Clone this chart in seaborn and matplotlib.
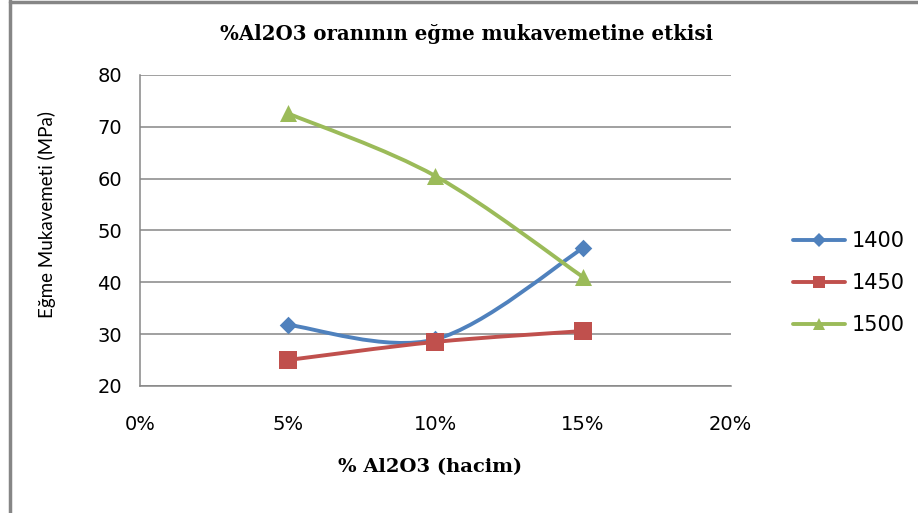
import numpy as np
import pandas as pd
import seaborn as sns
import matplotlib
matplotlib.use('Agg')
import matplotlib.pyplot as plt
from matplotlib.path import Path
from matplotlib.patches import PathPatch
from matplotlib.lines import Line2D

# data
oran = [5, 10, 15]  # % Al2O3 (hacim)
seriler = ['1400', '1450', '1500']
deger_1400 = [31.8, 29.0, 46.6]
deger_1450 = [25.0, 28.5, 30.6]
deger_1500 = [72.6, 60.5, 41.0]
x_ticks = [0, 5, 10, 15, 20]
x_tick_labels = ['0%', '5%', '10%', '15%', '20%']
y_ticks = [20, 30, 40, 50, 60, 70, 80]

renkler = {'1400': '#4F81BD', '1450': '#C0504D', '1500': '#9BBB59'}
isaretler = {'1400': 'D', '1450': 's', '1500': '^'}
boyut = {'1400': 80, '1450': 150, '1500': 150}

df = pd.DataFrame({
    'oran': oran * 3,
    'seri': np.repeat(seriler, len(oran)),
    'deger': deger_1400 + deger_1450 + deger_1500,
})

sns.set_theme(style='white')
plt.rcParams['font.family'] = ['DejaVu Sans']
plt.rcParams['text.color'] = 'black'
plt.rcParams['axes.labelcolor'] = 'black'

fig = plt.figure(figsize=(9.18, 5.13), dpi=100)
ax = fig.add_axes([0.1525, 0.2476, 0.6435, 0.6064])


def smooth_path(xs, ys):
    # Excel-like smoothed line as cubic bezier segments
    pts = list(zip(xs, ys))
    verts = [pts[0]]
    codes = [Path.MOVETO]
    n = len(pts)
    for i in range(n - 1):
        p0 = pts[i - 1] if i > 0 else pts[i]
        p1 = pts[i]
        p2 = pts[i + 1]
        p3 = pts[i + 2] if i + 2 < n else pts[i + 1]
        c1 = (p1[0] + (p2[0] - p0[0]) / 6, p1[1] + (p2[1] - p0[1]) / 6)
        c2 = (p2[0] - (p3[0] - p1[0]) / 6, p2[1] - (p3[1] - p1[1]) / 6)
        verts += [c1, c2, p2]
        codes += [Path.CURVE4] * 3
    return Path(verts, codes)


for s in seriler:
    d = df[df['seri'] == s]
    ax.add_patch(PathPatch(smooth_path(d['oran'].tolist(), d['deger'].tolist()),
                           facecolor='none', edgecolor=renkler[s], lw=2.8,
                           capstyle='round', zorder=3))
    sns.scatterplot(data=d, x='oran', y='deger', marker=isaretler[s], s=boyut[s],
                    color=renkler[s], edgecolor=renkler[s], linewidth=0, ax=ax,
                    zorder=4, legend=False)

ax.set_xlim(0, 20)
ax.set_ylim(20, 80)
ax.set_xticks(x_ticks)
ax.set_xticklabels(x_tick_labels)
ax.set_yticks(y_ticks)
ax.yaxis.grid(True, color='#868686', lw=1.1)
ax.set_axisbelow(True)
for side in ['top', 'right']:
    ax.spines[side].set_visible(False)
for side in ['left', 'bottom']:
    ax.spines[side].set_color('#868686')
    ax.spines[side].set_linewidth(1.1)
ax.tick_params(axis='both', which='major', direction='out', length=5, width=1.1,
               color='#868686', labelsize=14, labelcolor='#000000')
ax.tick_params(axis='x', pad=16)
ax.tick_params(axis='y', pad=8)

ax.set_xlabel('')
ax.set_ylabel('Eğme Mukavemeti (MPa)', fontsize=13.5, color='black',
              family='Lato')
ax.yaxis.set_label_coords(-0.142, 0.55)

fig.text(0.508, 0.934, '%Al2O3 oranının eğme mukavemetine etkisi',
         ha='center', va='center', fontsize=14.2, fontweight='bold',
         family='DejaVu Serif', color='black')
fig.text(0.468, 0.09, '% Al2O3 (hacim)', ha='center', va='center',
         fontsize=14, fontweight='bold', family='DejaVu Serif', color='black')

handles = [Line2D([0], [0], color=renkler[s], lw=2.8, marker=isaretler[s],
                  markersize=9 if s != '1400' else 7, markeredgewidth=0)
           for s in seriler]
leg = fig.legend(handles, seriler, loc='center left', bbox_to_anchor=(0.843, 0.448),
                 frameon=False, fontsize=15, handlelength=2.5, labelspacing=1.05,
                 handletextpad=0.35)
for t in leg.get_texts():
    t.set_color('black')

# chart area border (left and top visible)
fig.add_artist(Line2D([0.0105, 0.0105], [0, 1], color='#868686', lw=2.5,
                      transform=fig.transFigure))
fig.add_artist(Line2D([0.0105, 1], [0.997, 0.997], color='#868686', lw=2.5,
                      transform=fig.transFigure))

fig.savefig('out.png', dpi=100, facecolor='white')
